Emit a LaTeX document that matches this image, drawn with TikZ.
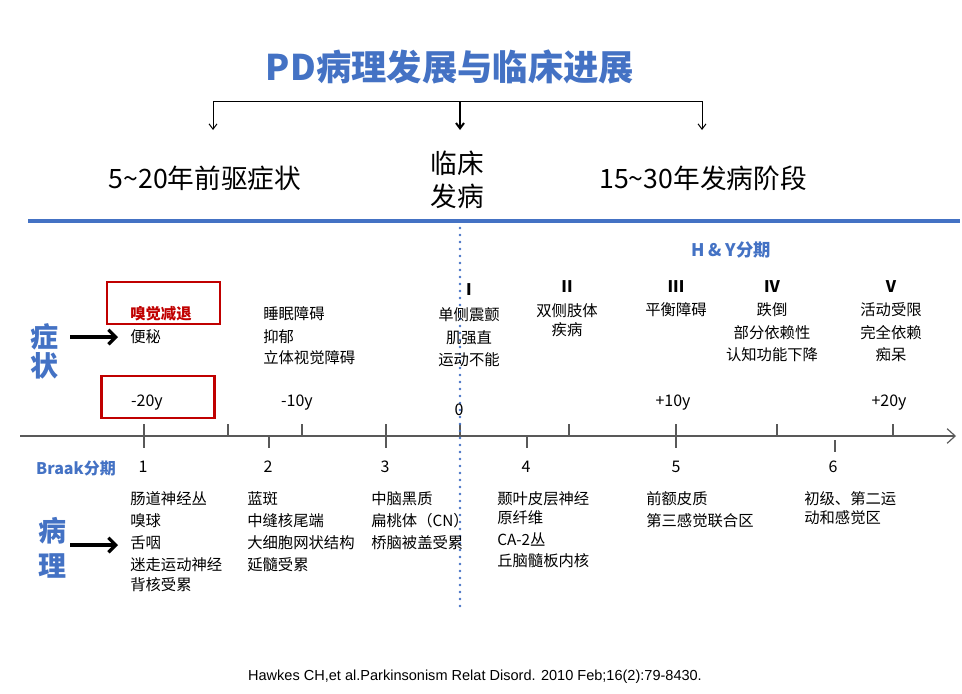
\documentclass[tikz,border=0pt]{standalone}
\usepackage{fontspec}
\setmainfont{Noto Sans CJK SC}
\newfontfamily\citefont{Liberation Sans}
\usetikzlibrary{arrows.meta}
\definecolor{pblue}{HTML}{4472C4}
\definecolor{pred}{HTML}{C00000}
\definecolor{axgray}{HTML}{595959}
\begin{document}
\begin{tikzpicture}[x=0.75pt,y=-0.75pt,
  txt/.style={inner sep=0pt, font=\fontsize{11.5}{14}\selectfont},
  txtl/.style={txt, anchor=west},
  big/.style={inner sep=0pt, font=\fontsize{20}{24}\selectfont},
  hdr/.style={inner sep=0pt, text=pblue, font=\fontsize{12}{14}\selectfont\bfseries},
  side/.style={inner sep=0pt, text=pblue, font=\fontsize{21}{25}\selectfont\bfseries},
  roman/.style={inner sep=0pt, font=\fontsize{12}{14}\selectfont\bfseries},
  redbox/.style={draw=pred, line width=1.7pt, minimum width=84.75pt, minimum height=31.5pt, inner sep=0pt},
  brk/.style={line width=0.75pt, -{Straight Barb[length=4pt,width=6pt]}},
  bigarrow/.style={line width=2.4pt, -{Straight Barb[length=5.5pt,width=11pt,line width=2.4pt]}},
  tick/.style={axgray, line width=0.8pt},
]
\useasboundingbox (0,0) rectangle (962,693);

% title
\node[inner sep=0pt, text=pblue, font=\fontsize{26.5}{32}\selectfont\bfseries] (title) at (450,67) {PD病理发展与临床进展};

% bracket
\coordinate (bL) at (213,101);
\coordinate (bM) at (460,101);
\coordinate (bR) at (702,101);
\coordinate (eL) at (213,130);
\coordinate (eM) at (460,130);
\coordinate (eR) at (702,130);
\draw[line width=0.75pt] (bL) -- (bR);
\draw[brk] (bL) -- (eL);
\draw[brk] (bR) -- (eR);
\draw[line width=1.5pt, -{Straight Barb[length=4pt,width=6pt]}] (bM) -- (eM);

\node[big] (pre) at (205,178) {5\textasciitilde20年前驱症状};
\node[big, align=center, font=\fontsize{20}{25}\selectfont] (onset) at (457,180) {临床\\发病};
\node[big] (dis) at (703,178) {15\textasciitilde30年发病阶段};

% blue rule
\coordinate (r1) at (28,221);
\coordinate (r2) at (960,221);
\draw[pblue, line width=2.4pt] (r1) -- (r2);

% axis
\coordinate (ax1) at (20,436);
\coordinate (ax2) at (956,436);
\draw[axgray, line width=1.1pt, -{Straight Barb[length=6pt,width=11pt,line width=0.9pt]}] (ax1) -- (ax2);
\foreach \x/\a/\b in {144/424/448, 228/424/436, 269/436/448, 302/424/436, 386/424/448, 460/424/436, 527/436/448, 569/424/436, 676/424/448, 777/424/436, 835/440/452, 893/424/436}
  \draw[tick] (\x,\a) -- (\x,\b);

% dotted onset line
\coordinate (d1) at (460,228);
\coordinate (d2) at (460,612);
\draw[pblue, line width=2.2pt, line cap=round, dash pattern=on 0pt off 5.25pt] (d1) -- (d2);

% H&Y
\node[hdr, font=\fontsize{13}{15}\selectfont\bfseries] (hy) at (731,250) {H \& Y分期};
\node[roman] (s1) at (469,290) {I};
\node[roman] (s2) at (567,287) {II};
\node[roman] (s3) at (676,287) {III};
\node[roman] (s4) at (772,287) {IV};
\node[roman] (s5) at (891,287) {V};

\node[txt] (h1a) at (469,315) {单侧震颤};
\node[txt] (h1b) at (469,338) {肌强直};
\node[txt] (h1c) at (469,360) {运动不能};
\node[txt] (h2a) at (567,311) {双侧肢体};
\node[txt] (h2b) at (567,330) {疾病};
\node[txt] (h3a) at (676,310) {平衡障碍};
\node[txt] (h4a) at (772,310) {跌倒};
\node[txt] (h4b) at (772,333) {部分依赖性};
\node[txt] (h4c) at (772,355) {认知功能下降};
\node[txt] (h5a) at (891,310) {活动受限};
\node[txt] (h5b) at (891,333) {完全依赖};
\node[txt] (h5c) at (891,355) {痴呆};

% symptoms
\node[redbox] (box1) at (163.5,303) {};
\node[redbox] (box2) at (158,397) {};
\node[txtl, text=pred, font=\fontsize{11.5}{14}\selectfont\bfseries] (p1a) at (130,314) {嗅觉减退};
\node[txtl] (p1b) at (130,337) {便秘};
\node[txtl] (p2a) at (263,314) {睡眠障碍};
\node[txtl] (p2b) at (263,337) {抑郁};
\node[txtl] (p2c) at (263,358) {立体视觉障碍};
\node[side] (zz1) at (44,337) {症};
\node[side] (zz2) at (44,366) {状};
\coordinate (a1s) at (70,337);
\coordinate (a1e) at (118,337);
\draw[bigarrow] (a1s) -- (a1e);

% years
\node[txt, font=\fontsize{12}{14}\selectfont] (y1) at (147,403) {-20y};
\node[txt, font=\fontsize{12}{14}\selectfont] (y2) at (297,403) {-10y};
\node[txt, font=\fontsize{12}{14}\selectfont] (y3) at (459,410) {0};
\node[txt, font=\fontsize{12}{14}\selectfont] (y4) at (673,403) {+10y};
\node[txt, font=\fontsize{12}{14}\selectfont] (y5) at (889,403) {+20y};

% Braak
\node[hdr] (braak) at (76,468) {Braak分期};
\node[txt, font=\fontsize{12}{14}\selectfont] (b1) at (143,467) {1};
\node[txt, font=\fontsize{12}{14}\selectfont] (b2) at (268,467) {2};
\node[txt, font=\fontsize{12}{14}\selectfont] (b3) at (385,467) {3};
\node[txt, font=\fontsize{12}{14}\selectfont] (b4) at (526,467) {4};
\node[txt, font=\fontsize{12}{14}\selectfont] (b5) at (676,467) {5};
\node[txt, font=\fontsize{12}{14}\selectfont] (b6) at (833,467) {6};

\node[txtl] (c1a) at (130,499) {肠道神经丛};
\node[txtl] (c1b) at (130,521) {嗅球};
\node[txtl] (c1c) at (130,543) {舌咽};
\node[txtl] (c1d) at (130,565) {迷走运动神经};
\node[txtl] (c1e) at (130,585) {背核受累};

\node[txtl] (c2a) at (247,499) {蓝斑};
\node[txtl] (c2b) at (247,521) {中缝核尾端};
\node[txtl] (c2c) at (247,543) {大细胞网状结构};
\node[txtl] (c2d) at (247,565) {延髓受累};

\node[txtl] (c3a) at (371,499) {中脑黑质};
\node[txtl] (c3b) at (371,521) {扁桃体（CN）};
\node[txtl] (c3c) at (371,543) {桥脑被盖受累};

\node[txtl] (c4a) at (497,499) {颞叶皮层神经};
\node[txtl] (c4b) at (497,518) {原纤维};
\node[txtl] (c4c) at (497,540) {CA-2丛};
\node[txtl] (c4d) at (497,561) {丘脑髓板内核};

\node[txtl] (c5a) at (646,499) {前额皮质};
\node[txtl] (c5b) at (646,521) {第三感觉联合区};

\node[txtl] (c6a) at (804,499) {初级、第二运};
\node[txtl] (c6b) at (804,518) {动和感觉区};

\node[side] (bl1) at (52,531) {病};
\node[side] (bl2) at (52,566) {理};
\coordinate (a2s) at (70,545);
\coordinate (a2e) at (118,545);
\draw[bigarrow] (a2s) -- (a2e);

% citation
\node[inner sep=0pt, font=\citefont\fontsize{10.9}{13}\selectfont] (cite) at (475,677) {Hawkes CH,et al.Parkinsonism Relat Disord. 2010 Feb;16(2):79-8430.};
\end{tikzpicture}
\end{document}
